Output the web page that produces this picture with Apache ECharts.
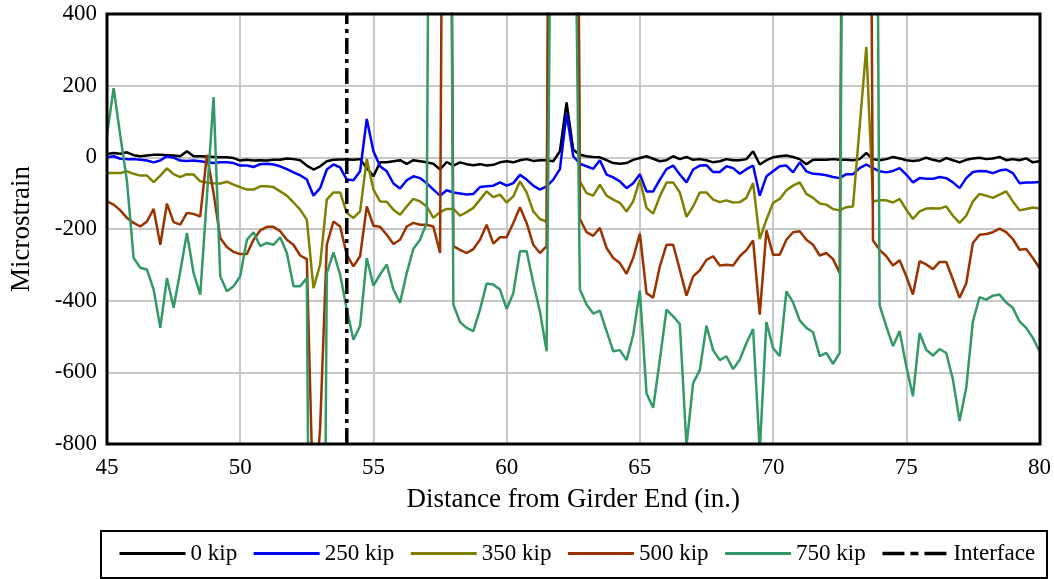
<!DOCTYPE html>
<html>
<head>
<meta charset="utf-8">
<script src="https://cdn.jsdelivr.net/npm/echarts@6/dist/echarts.min.js"></script>
<style>
  html, body { margin: 0; padding: 0; background: #fff; }
  #chart { width: 1054px; height: 579px; }
</style>
</head>
<body>
<div id="chart"></div>
<script>
// gauge readings every 0.25 in. from 45 to 80 in.
var distStart = 45, distStep = 0.25;

var kip0 = [9, 12, 10, 14, 6, 3, 5, 7, 7, 6, 5, 3, 17, 3, 3, 2, 1, 0, 0, -2, -9, -7, -9, -8,
  -9, -7, -7, -3, -5, -8, -23, -34, -25, -11, -7, -6, -6, -7, -5, -30, -53, -14, -14, -11, -8, -18, -8,
  -11, -14, -18, -34, -13, -23, -14, -19, -22, -19, -23, -21, -14, -11, -14, -8, -5, -10, -8, -8, -11, 17, 153, 21,
  7, 3, 1, 0, -8, -16, -18, -16, -7, -2, 3, -4, -11, -8, 3, -5, 1, -7, -5, -8, -14, -11, -5,
  -8, -8, -5, 17, -20, -8, 0, 3, 5, 1, -5, -19, -7, -7, -7, -5, -7, -7, -8, -5, 12, -5, -8,
  -5, 1, -3, -8, -10, -8, -1, -7, -11, -2, -8, -14, -7, -3, -1, -5, -3, 1, -8, -5, -8, -3, -14, -11];

var kip250 = [0, 3, -4, -5, -5, -7, -9, -14, -9, 3, -1, -9, -10, -9, -11, -14, -16, -14, -14, -16, -23, -23, -27, -19,
  -18, -20, -25, -33, -42, -50, -62, -107, -86, -34, -20, -28, -62, -64, -39, 107, 17, -25, -39, -73, -87, -64, -53,
  -58, -72, -90, -107, -92, -98, -101, -104, -102, -83, -81, -79, -70, -79, -72, -49, -62, -79, -90, -81, -62, -33, 122, 3,
  -18, -25, -32, -8, -48, -56, -67, -86, -72, -47, -95, -95, -62, -33, -23, -48, -70, -34, -23, -22, -41, -41, -25,
  -30, -46, -33, -23, -107, -53, -39, -25, -23, -42, -14, -39, -46, -47, -50, -55, -58, -47, -47, -30, -20, -30, -39,
  -42, -38, -30, -48, -70, -58, -60, -60, -55, -58, -70, -86, -58, -41, -38, -39, -44, -37, -34, -44, -72, -70, -70, -69];

var kip350 = [-44, -44, -44, -39, -46, -51, -51, -69, -51, -31, -47, -55, -47, -48, -67, -70, -72, -73, -68, -76, -83, -90, -90, -81,
  -81, -83, -95, -107, -126, -146, -174, -365, -299, -118, -98, -98, -155, -169, -151, -5, -90, -123, -124, -146, -160, -137, -116,
  -123, -137, -169, -153, -144, -144, -163, -153, -141, -118, -95, -111, -104, -126, -109, -67, -98, -151, -172, -179, 3000, 3000, 3000, 3000,
  -67, -100, -107, -76, -107, -118, -127, -151, -123, -62, -141, -157, -109, -70, -70, -98, -166, -137, -98, -98, -118, -125, -120,
  -126, -125, -113, -72, -228, -174, -127, -116, -92, -79, -70, -102, -113, -129, -132, -144, -148, -139, -137, 86, 308, -123, -120,
  -120, -126, -116, -146, -172, -151, -143, -142, -143, -137, -163, -183, -163, -123, -102, -107, -113, -104, -95, -123, -148, -144, -140, -143];

var kip500 = [-123, -132, -148, -169, -183, -193, -179, -144, -244, -129, -181, -188, -155, -158, -165, 7, -100, -225, -250, -264, -270, -270, -230, -204,
  -194, -194, -206, -230, -244, -274, -284, -1000, -755, -244, -179, -193, -272, -304, -276, -137, -191, -194, -216, -242, -230, -193, -183,
  -188, -188, -193, -267, 3000, -248, -258, -267, -256, -230, -188, -241, -223, -223, -183, -139, -183, -244, -267, -248, 3000, 3000, 3000, 3000,
  -172, -209, -219, -197, -253, -281, -295, -325, -281, -213, -379, -392, -304, -244, -244, -314, -386, -332, -315, -286, -276, -302, -300,
  -302, -276, -259, -232, -439, -204, -272, -272, -230, -209, -206, -230, -244, -274, -267, -284, -323, 3000, 3000, 3000, 3000, -232, -258,
  -276, -302, -287, -332, -383, -290, -299, -312, -292, -292, -341, -392, -352, -239, -216, -214, -209, -199, -209, -228, -258, -256, -281, -309];

var kip750 = [63, 193, 60, -67, -281, -308, -313, -369, -476, -337, -420, -318, -211, -323, -383, -110, 168, -332, -374, -360, -332, -230, -209, -248,
  -239, -244, -223, -267, -360, -360, -337, -3000, -3000, -323, -265, -327, -425, -509, -470, -281, -358, -327, -299, -369, -406, -323, -255,
  -230, -183, 3000, 3000, 3000, -411, -460, -476, -485, -425, -352, -355, -369, -423, -379, -262, -262, -350, -430, -541, 1500, 3000, 3000, 1200,
  -369, -411, -436, -428, -485, -541, -538, -566, -495, -372, -659, -699, -565, -425, -444, -465, -805, -630, -594, -470, -538, -566, -555,
  -591, -565, -518, -479, -820, -460, -532, -555, -374, -405, -455, -476, -488, -555, -546, -576, -546, 3000, 3000, 3000, 3000, 3000, -413,
  -472, -527, -485, -583, -667, -490, -537, -553, -535, -546, -620, -736, -644, -458, -390, -397, -386, -383, -405, -420, -458, -476, -504, -541];

var interfaceAt = 54;

var seriesNames = ['0 kip', '250 kip', '350 kip', '500 kip', '750 kip', 'Interface'];
var seriesColors = ['#000000', '#0000ff', '#808000', '#993300', '#339966', '#000000'];
var xTicks = [45, 80, 5];
var yTicks = [-800, 400, 200];

var font = 'Liberation Serif, Times New Roman, serif';

function pairs(vals) {
  var out = [];
  for (var i = 0; i < vals.length; i++) {
    out.push([distStart + i * distStep, vals[i]]);
  }
  return out;
}

function lineSeries(idx, vals) {
  return {
    name: seriesNames[idx],
    type: 'line',
    data: pairs(vals),
    showSymbol: false,
    symbol: 'none',
    clip: true,
    color: seriesColors[idx],
    lineStyle: { color: seriesColors[idx], width: 2.5 }
  };
}

var legendItems = seriesNames.map(function (n, i) {
  if (i === 5) return { name: n, lineStyle: { width: 3.5, type: [22, 6, 8, 6] } };
  return { name: n };
});

var chart = echarts.init(document.getElementById('chart'), null, { renderer: 'canvas' });

var option = {
  animation: false,
  backgroundColor: '#ffffff',
  grid: { left: 107, right: 14, top: 14, bottom: 135 },
  xAxis: {
    type: 'value',
    min: xTicks[0], max: xTicks[1], interval: xTicks[2],
    name: 'Distance from Girder End (in.)',
    nameLocation: 'middle',
    nameGap: 42,
    nameTextStyle: { fontFamily: font, fontSize: 27, color: '#000' },
    axisLine: { show: false },
    axisTick: { show: false },
    axisLabel: { fontFamily: font, fontSize: 23, color: '#000', margin: 12 },
    splitLine: { lineStyle: { color: '#c8c8c8', width: 2 } }
  },
  yAxis: {
    type: 'value',
    min: yTicks[0], max: yTicks[1], interval: yTicks[2],
    name: 'Microstrain',
    nameLocation: 'middle',
    nameGap: 72,
    nameTextStyle: { fontFamily: font, fontSize: 27, color: '#000' },
    axisLine: { show: false },
    axisTick: { show: false },
    axisLabel: { fontFamily: font, fontSize: 23, color: '#000', margin: 10 },
    splitLine: { lineStyle: { color: '#c8c8c8', width: 2 } }
  },
  legend: {
    data: legendItems,
    left: 118,
    top: 542,
    padding: 0,
    itemWidth: 66,
    itemHeight: 14,
    itemGap: 15,
    itemStyle: { opacity: 0 },
    lineStyle: { width: 3 },
    textStyle: { fontFamily: font, fontSize: 23, color: '#000' }
  },
  graphic: [{
    // plot frame
    type: 'rect',
    shape: { x: 107, y: 14, width: 933, height: 430 },
    style: { fill: 'none', stroke: '#000', lineWidth: 3 },
    z: 100,
    silent: true
  }, {
    // legend box
    type: 'rect',
    shape: { x: 101, y: 531, width: 946, height: 47 },
    style: { fill: 'none', stroke: '#000', lineWidth: 2 },
    silent: true
  }],
  series: [
    lineSeries(0, kip0),
    lineSeries(1, kip250),
    lineSeries(2, kip350),
    lineSeries(3, kip500),
    lineSeries(4, kip750),
    {
      name: seriesNames[5],
      type: 'line',
      data: [[interfaceAt, yTicks[0]], [interfaceAt, yTicks[1]]],
      showSymbol: false,
      symbol: 'none',
      color: seriesColors[5],
      lineStyle: { color: seriesColors[5], width: 3.5, type: [16, 5, 4, 5] }
    }
  ]
};

chart.setOption(option);
</script>
</body>
</html>
